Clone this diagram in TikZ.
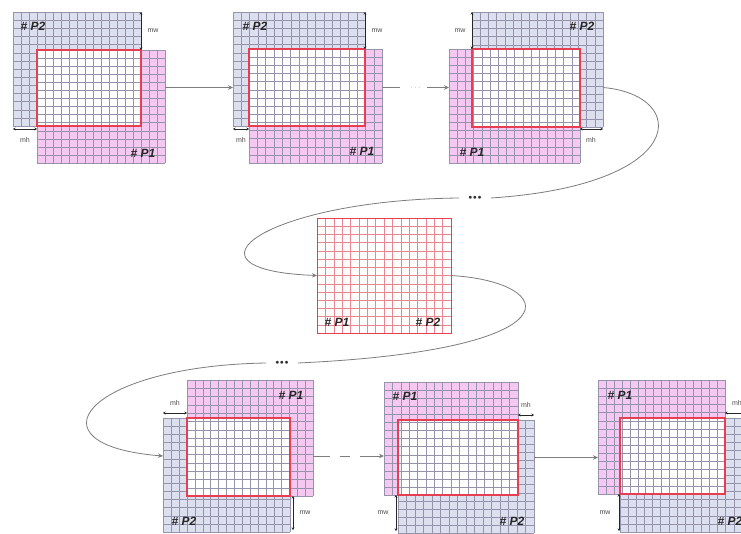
\documentclass[tikz,border=0pt]{standalone}
\usepackage{fontspec}
\setsansfont{Liberation Sans}
\usetikzlibrary{arrows.meta,fit}

\definecolor{ptwofill}{RGB}{220,223,238}
\definecolor{ponefill}{RGB}{244,200,240}
\definecolor{gridgray}{RGB}{150,148,172}
\definecolor{redline}{RGB}{232,62,82}
\definecolor{softred}{RGB}{232,135,145}
\definecolor{conngray}{RGB}{125,125,125}

\tikzset{
  gridline/.style={draw=gridgray, line width=0.3pt},
  redgrid/.style={draw=softred, line width=0.35pt},
  overlapframe/.style={draw=redline, line width=1.5pt},
  plabel/.style={font=\sffamily\bfseries\itshape\fontsize{12}{12}\selectfont, text=black!85, inner sep=0pt},
  dimlabel/.style={font=\sffamily\fontsize{7}{7}\selectfont, text=black!70, inner sep=0pt},
  dimarrow/.style={{Stealth[length=2.6pt,width=3pt]}-{Stealth[length=2.6pt,width=3pt]}, line width=0.6pt, draw=black!85},
  conn/.style={draw=conngray, line width=0.8pt, -{Stealth[length=5pt,width=4.5pt]}},
  bbox/.style={inner sep=0pt, outer sep=0pt},
  gapdots/.style={font=\scriptsize, text=black!80, inner xsep=9pt, inner ysep=2pt},
}

% 16 x 14 grid of lines inside the rectangle (#1,#2)-(#3,#4)
\newcommand\drawgrid[5]{%
  \foreach \k in {0,...,16}{\draw[#5] ({#1+(#3-#1)*\k/16},#2) -- ({#1+(#3-#1)*\k/16},#4);}
  \foreach \k in {0,...,14}{\draw[#5] (#1,{#2+(#4-#2)*\k/14}) -- (#3,{#2+(#4-#2)*\k/14});}
}

% partition P2 (#1..#4) overlapped by partition P1 (#5..#8), overlap framed in red
\newcommand\drawpanel[8]{%
  \fill[ptwofill] (#1,#2) rectangle (#3,#4);
  \drawgrid{#1}{#2}{#3}{#4}{gridline}
  \fill[ponefill] (#5,#6) rectangle (#7,#8);
  \pgfmathsetmacro\ixa{max(#1,#5)}
  \pgfmathsetmacro\iya{max(#2,#6)}
  \pgfmathsetmacro\ixb{min(#3,#7)}
  \pgfmathsetmacro\iyb{min(#4,#8)}
  \fill[white] (\ixa,\iya) rectangle (\ixb,\iyb);
  \drawgrid{#5}{#6}{#7}{#8}{gridline}
  \draw[overlapframe] (\ixa,\iya) rectangle (\ixb,\iyb);
}

\begin{document}
\begin{tikzpicture}[x=1pt,y=-1pt]
\useasboundingbox (0,0) rectangle (741,533);
\fill[white] (0,0) rectangle (741,533);
\clip (0,0) rectangle (741,533);

% ---------- top row ----------
\drawpanel{13}{12}{141}{126}{37}{50}{165}{163}
\node[bbox, fit={(13,12)(165,163)}] (t1) {};
\node[plabel] (t1p2) at (33,26) {\# P2};
\node[plabel] (t1p1) at (143,153) {\# P1};
\draw[dimarrow] (141,12) -- (141,50);
\node[dimlabel] (t1w) at (153,31) {mw};
\draw[dimarrow] (13,129) -- (37,129);
\node[dimlabel] (t1h) at (25,140) {mh};

\drawpanel{233}{12}{365}{126}{249}{49}{382}{163}
\node[bbox, fit={(233,12)(382,163)}] (t2) {};
\node[plabel] (t2p2) at (255,26) {\# P2};
\node[plabel] (t2p1) at (362,151) {\# P1};
\draw[dimarrow] (365,12) -- (365,49);
\node[dimlabel] (t2w) at (377,31) {mw};
\draw[dimarrow] (233,129) -- (249,129);
\node[dimlabel] (t2h) at (241,140) {mh};

\drawpanel{472}{12}{603}{127}{449}{49}{580}{163}
\node[bbox, fit={(449,12)(603,163)}] (t3) {};
\node[plabel] (t3p2) at (582,26) {\# P2};
\node[plabel] (t3p1) at (472,152) {\# P1};
\draw[dimarrow] (472,12) -- (472,49);
\node[dimlabel] (t3w) at (460,31) {mw};
\draw[dimarrow] (580,129) -- (603,129);
\node[dimlabel] (t3h) at (591,140) {mh};

% ---------- middle partition ----------
\fill[white] (317,218) rectangle (451,333);
\drawgrid{317}{218}{451}{333}{redgrid}
\node[bbox, draw=redline, line width=0.7pt, fit={(317,218)(451,333)}] (mid) {};
\node[plabel] (mp1) at (337,322) {\# P1};
\node[plabel] (mp2) at (428,322) {\# P2};

% ---------- bottom row ----------
\drawpanel{163}{418}{290}{532}{187}{380}{313}{496}
\node[bbox, fit={(163,380)(313,532)}] (b1) {};
\node[plabel] (b1p1) at (291,395) {\# P1};
\node[plabel] (b1p2) at (184,521) {\# P2};
\draw[dimarrow] (163,413) -- (187,413);
\node[dimlabel] (b1h) at (175,403) {mh};
\draw[dimarrow] (293,496) -- (293,530);
\node[dimlabel] (b1w) at (305,513) {mw};

\drawpanel{398}{420}{534}{533}{384}{382}{518}{495}
\node[bbox, fit={(384,382)(534,533)}] (b2) {};
\node[plabel] (b2p1) at (405,396) {\# P1};
\node[plabel] (b2p2) at (512,521) {\# P2};
\draw[dimarrow] (518,415) -- (534,415);
\node[dimlabel] (b2h) at (526,405) {mh};
\draw[dimarrow] (396,495) -- (396,531);
\node[dimlabel] (b2w) at (383,513) {mw};

\drawpanel{620}{418}{750}{532}{598}{380}{725}{494}
\node[bbox, fit={(598,380)(750,532)}] (b3) {};
\node[plabel] (b3p1) at (620,395) {\# P1};
\node[plabel] (b3p2) at (730,521) {\# P2};
\draw[dimarrow] (725,413) -- (747,413);
\node[dimlabel] (b3h) at (737,403) {mh};
\draw[dimarrow] (619,494) -- (619,531);
\node[dimlabel] (b3w) at (605,513) {mw};

% ---------- connectors ----------
\draw[conn] (t1.east) -- (t2.west);
\draw[conn, dash pattern=on 18pt off 27pt on 40pt] (t2.east) -- node[font=\scriptsize, text=conngray, inner sep=0pt] (tdots) {$\cdots$} (t3.west);

\node[gapdots] (dA) at (475,198) {$\bullet\!\bullet\!\bullet$};
\draw[conn, -] (t3.east) .. controls (690,95) and (690,185) .. (dA.east);
\draw[conn] (dA.west) .. controls (265,200) and (170,270) .. (mid.west);

\node[gapdots] (dB) at (282,363) {$\bullet\!\bullet\!\bullet$};
\draw[conn, -] (mid.east) .. controls (560,282) and (580,350) .. (dB.east);
\draw[conn] (dB.west) .. controls (85,366) and (25,445) .. (b1.west);

\draw[conn, dash pattern=on 17pt off 10pt on 10pt off 10pt on 40pt] (b1.east) -- (b1.east -| b2.west);
\draw[conn] (b2.east) -- (b2.east -| b3.west);
\end{tikzpicture}
\end{document}
